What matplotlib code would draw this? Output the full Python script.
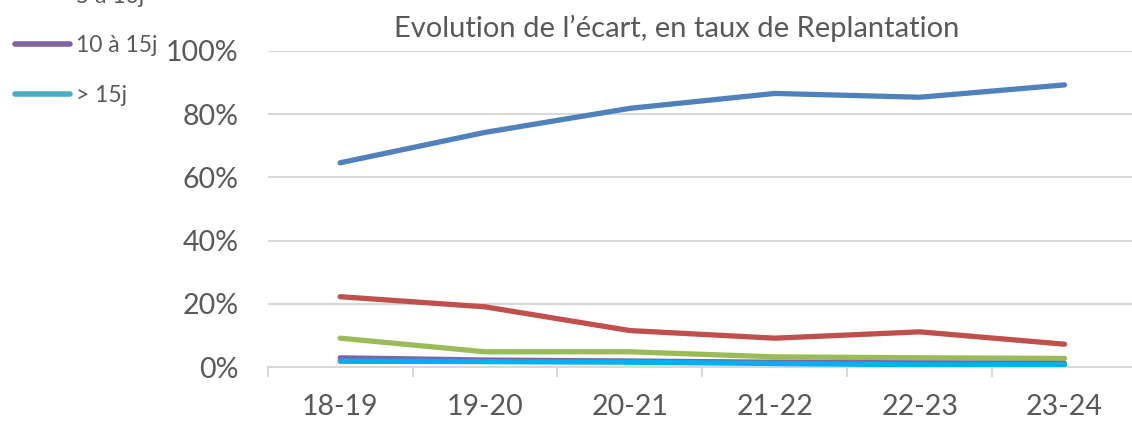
import matplotlib
matplotlib.use("Agg")
import matplotlib.pyplot as plt
from matplotlib.lines import Line2D
from matplotlib.ticker import FixedLocator, PercentFormatter

plt.rcParams['font.family'] = ['Lato', 'DejaVu Sans']

# ---------------------------------------------------------------------------
# data (% of replantation)
seasons = ["18-19", "19-20", "20-21", "21-22", "22-23", "23-24"]
serie_1 = [64.6, 74.2, 81.8, 86.5, 85.3, 89.2]
serie_2 = [22.3, 19.1, 11.6, 9.2, 11.2, 7.3]
serie_5_10 = [9.2, 4.9, 4.9, 3.3, 3.0, 2.8]
serie_10_15 = [3.0, 2.3, 2.0, 1.6, 1.4, 1.2]
serie_15 = [1.9, 1.8, 1.6, 1.2, 0.8, 0.8]

legend_labels = ["5 à 10j", "10 à 15j", "> 15j"]

grey_txt = "#595959"
grid_col = "#D9D9D9"

fig = plt.figure(figsize=(11.32, 4.22), dpi=100)
ax = fig.add_axes([267.7 / 1132, 1 - 367.3 / 422, (1137 - 267.7) / 1132, (367.3 - 50.7) / 422])

x = list(range(len(seasons)))
lw = 3.8
ax.plot(x, serie_1, color="#4F81BD", lw=lw, solid_capstyle="round", zorder=3)
ax.plot(x, serie_2, color="#C0504D", lw=lw, solid_capstyle="round", zorder=3)
ax.plot(x, serie_5_10, color="#9BBB59", lw=lw, solid_capstyle="round", zorder=3)
ax.plot(x, serie_10_15, color="#8064A2", lw=lw, solid_capstyle="round", zorder=3)
ax.plot(x, serie_15, color="#00B0F0", lw=lw, solid_capstyle="round", zorder=3)

ax.set_xlim(-0.5, len(seasons) - 0.5)
ax.set_ylim(0, 100)
ax.set_yticks([0, 20, 40, 60, 80, 100])
ax.yaxis.set_major_formatter(PercentFormatter(decimals=0))
ax.grid(axis="y", color=grid_col, lw=1.5, zorder=0)
ax.set_axisbelow(True)

ax.set_xticks(x)
ax.set_xticklabels(seasons)
ax.xaxis.set_minor_locator(FixedLocator([i - 0.5 for i in range(len(seasons) + 1)]))
ax.tick_params(axis="x", which="major", length=0, pad=19, labelsize=20.5, labelcolor=grey_txt)
ax.tick_params(axis="x", which="minor", length=7, width=1.5, color=grid_col)
ax.tick_params(axis="y", length=0, pad=21, labelsize=20.5, labelcolor=grey_txt)

for side in ["left", "right", "top"]:
    ax.spines[side].set_visible(False)
ax.spines["bottom"].set_color(grid_col)
ax.spines["bottom"].set_linewidth(1.5)

fig.text(677 / 1132, 1 - 28 / 422, "Evolution de l\u2019écart, en taux de Replantation",
         ha="center", va="center", fontsize=21, color=grey_txt)

handles = [Line2D([], [], color="#C3D69B", lw=4, solid_capstyle="round"),
           Line2D([], [], color="#8064A2", lw=4, solid_capstyle="round"),
           Line2D([], [], color="#4BACC6", lw=4, solid_capstyle="round")]
fig.legend(handles, legend_labels, loc="upper left", bbox_to_anchor=(0.005, 1.056),
           frameon=False, fontsize=16.5, labelcolor=grey_txt, handlelength=2.4,
           handletextpad=0.25, labelspacing=1.25, borderaxespad=0.0)

fig.savefig("out.png", dpi=100)
